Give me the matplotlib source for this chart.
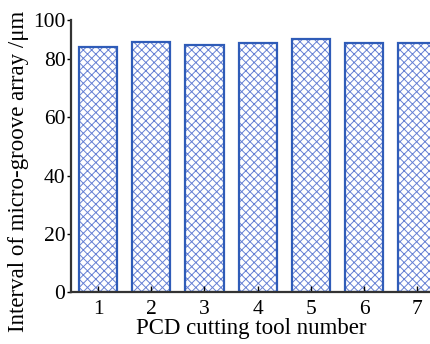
import matplotlib
matplotlib.use("Agg")
from matplotlib import pyplot as plt

# values
tool_numbers = [1, 2, 3, 4, 5, 6, 7]
groove_interval = [84.3, 86.0, 84.9, 85.7, 87.0, 85.7, 85.7]
ytick_pos = [0, 20, 40, 60, 80, 93.5]
ytick_labels = ["0", "20", "40", "60", "80", "100"]

plt.rcParams["font.family"] = ["Liberation Serif", "DejaVu Serif"]
plt.rcParams["hatch.linewidth"] = 0.7
plt.rcParams["hatch.color"] = "#6680d4"

fig = plt.figure(figsize=(4.31, 3.44), dpi=100)
ax = fig.add_axes([71 / 431, (344 - 292) / 344, 1 - 71 / 431, (292 - 20) / 344])

# hatched body, then the darker outline on top
ax.bar(tool_numbers, groove_interval, width=0.72, color="white",
       edgecolor="#6680d4", linewidth=0, hatch="xxxx")
ax.bar(tool_numbers, groove_interval, width=0.72, fill=False,
       edgecolor="#2f5cb8", linewidth=1.6)

ax.set_xlim(0.49, 7.26)
ax.set_ylim(0, 93.5)
ax.set_xticks(tool_numbers)
ax.set_yticks(ytick_pos)
ax.set_yticklabels(ytick_labels)
ax.tick_params(axis="x", direction="in", length=4, width=1, labelsize=15.5, pad=6)
ax.tick_params(axis="y", direction="out", length=3, width=1, labelsize=15.5, pad=1)

for side in ["top", "right"]:
    ax.spines[side].set_visible(False)
for side in ["left", "bottom"]:
    ax.spines[side].set_linewidth(1.6)
    ax.spines[side].set_color("#333333")

ax.set_xlabel("PCD cutting tool number", fontsize=16.5, labelpad=-1)
ax.set_ylabel("Interval of micro-groove array /μm", fontsize=16.5)
# the label sits a bit below the axes middle in the reference
ax.yaxis.set_label_coords(-0.118, 0.445)

fig.savefig("out.png", dpi=100)
